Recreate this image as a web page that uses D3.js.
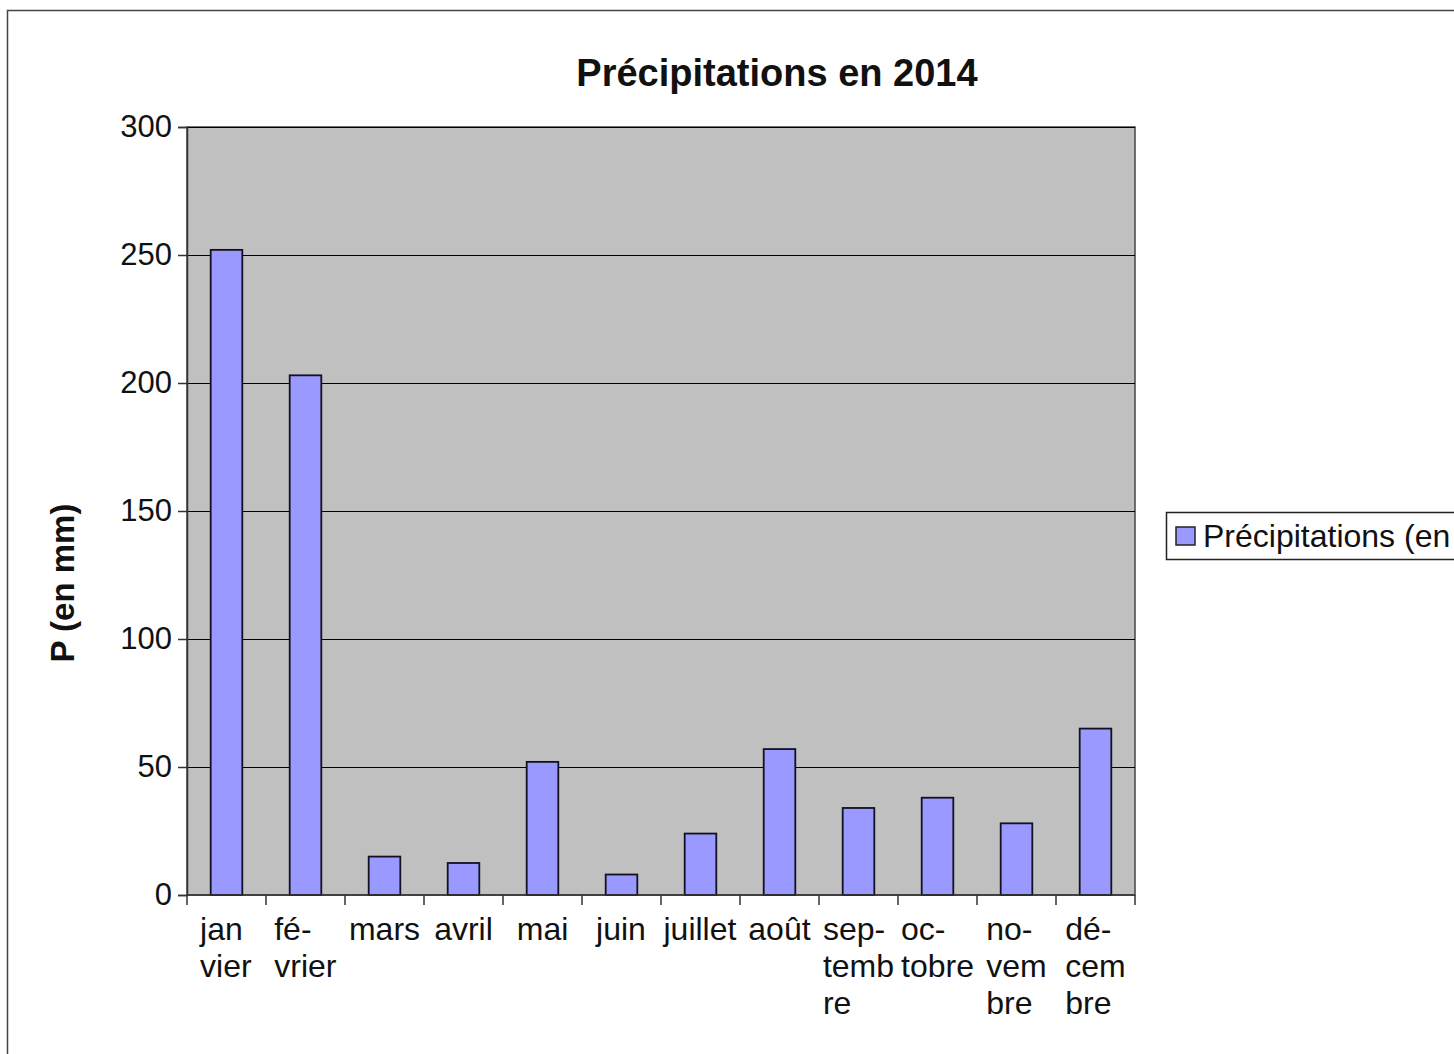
<!DOCTYPE html>
<html>
<head>
    <title>Précipitations en 2014</title>
    <script src="https://cdnjs.cloudflare.com/ajax/libs/d3/7.8.5/d3.min.js"></script>
    <style>
        body { margin: 0; background: #fff; }
        svg { display: block; font-family: "Liberation Sans", Arial, sans-serif; }
    </style>
</head>
<body>
    <svg id="chart" width="1454" height="1054"></svg>
    <script>
        // data
        var months = ["jan vier", "fé- vrier", "mars", "avril", "mai", "juin", "juillet", "août",
                      "sep- temb re", "oc- tobre", "no- vem bre", "dé- cem bre"];
        var rain = [252, 203, 15, 12.5, 52, 8, 24, 57, 34, 38, 28, 65];
        var yTicks = [0, 50, 100, 150, 200, 250, 300];
        var seriesName = "Précipitations (en mm)";

        var svg = d3.select("#chart");
        var plotL = 187, plotR = 1135, plotT = 127, plotB = 895;

        // outer frame of the chart object
        svg.append("rect")
            .attr("x", 7.5).attr("y", 10.5)
            .attr("width", 1600).attr("height", 1200)
            .attr("fill", "none").attr("stroke", "#444").attr("stroke-width", 1.5);

        var x = d3.scaleBand().domain(months).range([plotL, plotR]).padding(0);
        var y = d3.scaleLinear().domain([0, 300]).range([plotB, plotT]);

        // plot area
        svg.append("rect")
            .attr("x", plotL).attr("y", plotT)
            .attr("width", plotR - plotL).attr("height", plotB - plotT)
            .attr("fill", "#c0c0c0").attr("stroke", "#444").attr("stroke-width", 1.5);

        // grid lines
        svg.append("g").selectAll("line")
            .data(yTicks.filter(d => d > 0))
            .enter().append("line")
            .attr("x1", plotL).attr("x2", plotR)
            .attr("y1", d => y(d) + 0.5).attr("y2", d => y(d) + 0.5)
            .attr("stroke", "#000").attr("stroke-width", 1.5)
            .attr("shape-rendering", "crispEdges");

        // bars
        svg.append("g").selectAll("rect")
            .data(rain)
            .enter().append("rect")
            .attr("x", (d, i) => x(months[i]) + x.bandwidth() * 0.3)
            .attr("width", x.bandwidth() * 0.4)
            .attr("y", d => y(d))
            .attr("height", d => y(0) - y(d))
            .attr("fill", "#9999ff")
            .attr("stroke", "#111122")
            .attr("stroke-width", 1.8);

        // y axis
        var yAxis = d3.axisLeft(y).tickValues(yTicks).tickSize(9).tickPadding(6);
        var yG = svg.append("g").attr("transform", "translate(" + plotL + ",0)").call(yAxis);
        yG.select(".domain").attr("stroke", "#333").attr("stroke-width", 1.5);
        yG.selectAll(".tick line").attr("stroke", "#333").attr("stroke-width", 1.5);
        yG.selectAll(".tick text")
            .attr("font-size", 31).attr("fill", "#111")
            .attr("font-family", "Liberation Sans, Arial, sans-serif");

        // x axis: ticks at the band edges
        var xG = svg.append("g").attr("transform", "translate(0," + plotB + ")");
        xG.append("line")
            .attr("x1", plotL).attr("x2", plotR)
            .attr("stroke", "#333").attr("stroke-width", 1.5);
        var edges = months.map(m => x(m)).concat([plotR]);
        xG.selectAll("line.tk")
            .data(edges)
            .enter().append("line")
            .attr("class", "tk")
            .attr("x1", d => d).attr("x2", d => d)
            .attr("y1", 0).attr("y2", 10)
            .attr("stroke", "#333").attr("stroke-width", 1.5);

        // x labels: lines left aligned, block centred on band
        months.forEach(function(m) {
            var parts = m.split(" ");
            var t = xG.append("text")
                .attr("font-size", 32).attr("fill", "#111")
                .attr("y", 45);
            parts.forEach(function(p, i) {
                t.append("tspan").attr("x", 0).attr("dy", i == 0 ? 0 : 37).text(p);
            });
            var w = t.node().getBBox().width;
            var cx = x(m) + x.bandwidth() / 2;
            t.attr("transform", "translate(" + (cx - w / 2) + ",0)");
        });

        // title
        svg.append("text")
            .attr("x", 777).attr("y", 86)
            .attr("text-anchor", "middle")
            .attr("font-size", 38).attr("font-weight", "bold")
            .attr("fill", "#111")
            .text("Précipitations en 2014");

        // y title
        svg.append("text")
            .attr("transform", "translate(74,583) rotate(-90)")
            .attr("text-anchor", "middle")
            .attr("font-size", 33).attr("font-weight", "bold")
            .attr("fill", "#111")
            .text("P (en mm)");

        // legend
        var lg = svg.append("g").attr("transform", "translate(1166,512)");
        lg.append("rect")
            .attr("x", 0.5).attr("y", 0.5)
            .attr("width", 400).attr("height", 47)
            .attr("fill", "#fff").attr("stroke", "#222").attr("stroke-width", 1.5);
        lg.append("rect")
            .attr("x", 10).attr("y", 15)
            .attr("width", 19).attr("height", 18)
            .attr("fill", "#9999ff").attr("stroke", "#222").attr("stroke-width", 1.5);
        lg.append("text")
            .attr("x", 37).attr("y", 35)
            .attr("font-size", 32).attr("fill", "#111")
            .text(seriesName);
    </script>
</body>
</html>
